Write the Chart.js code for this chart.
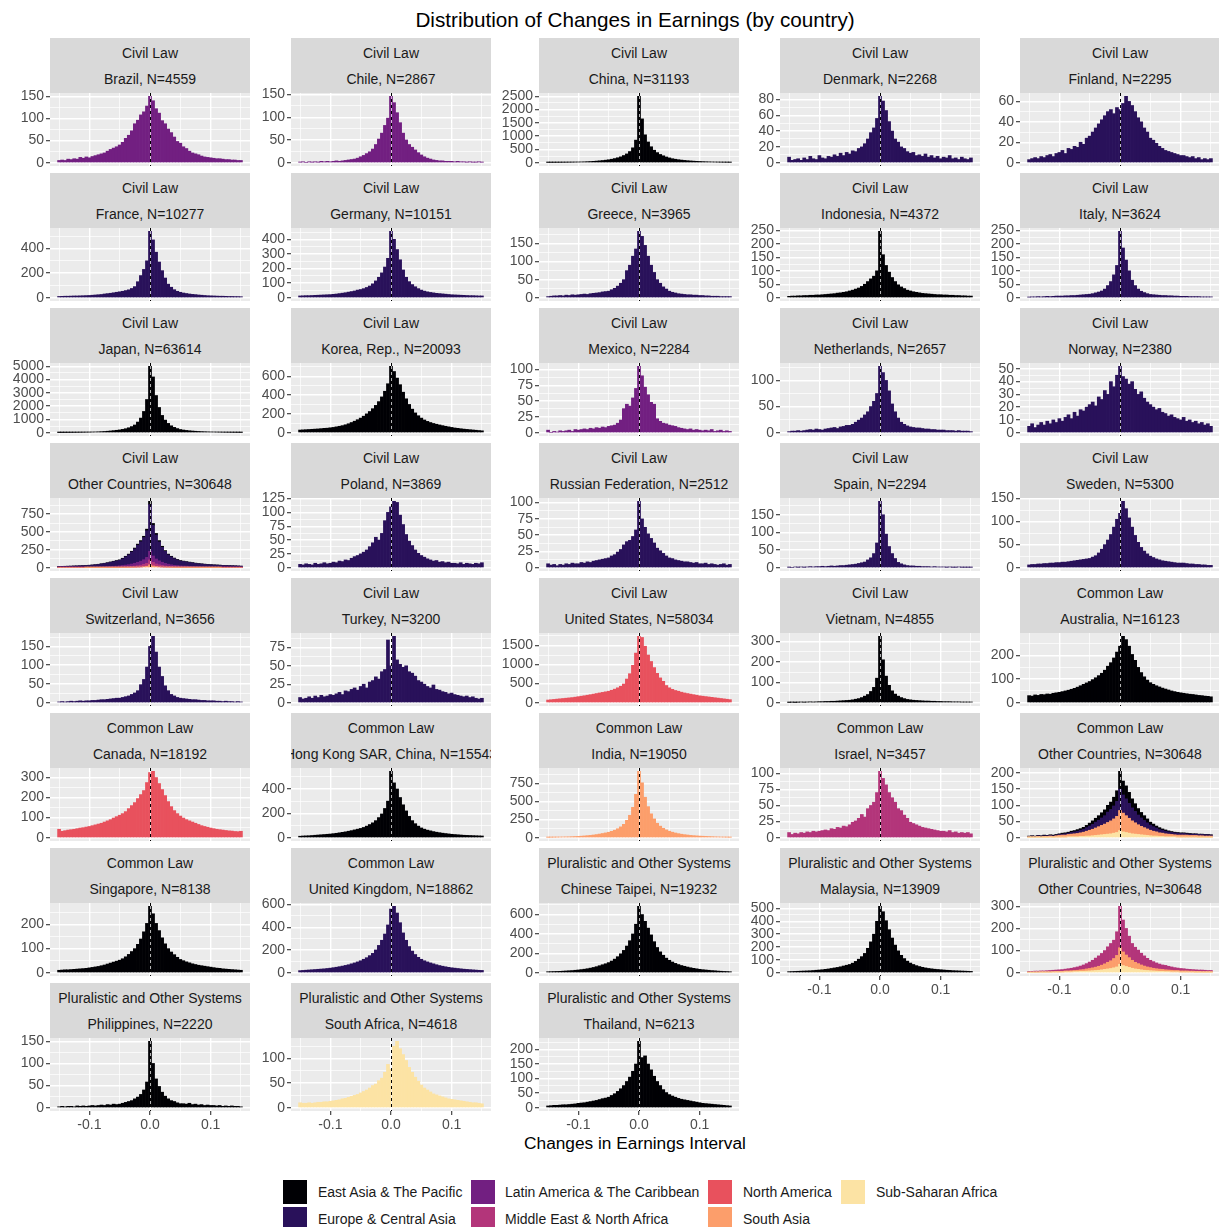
<!DOCTYPE html>
<html>
<head>
<meta charset="utf-8">
<title>Distribution of Changes in Earnings (by country)</title>
<script src="https://cdn.jsdelivr.net/npm/chart.js@4.4.1/dist/chart.umd.min.js"></script>
<style>
  html, body { margin: 0; padding: 0; background: #ffffff; }
  body { position: relative; width: 1219px; height: 1227px; overflow: hidden; font-family: "Liberation Sans", Arial, sans-serif; }
  .strip { position: absolute; background: #D9D9D9; overflow: hidden; }
  .strip div { position: absolute; left: 0; right: 0; display: flex; justify-content: center; white-space: nowrap; font-size: 14px; line-height: 16px; color: #1A1A1A; }
  .panel { position: absolute; }
  .title { position: absolute; left: 0; width: 1270px; text-align: center; color: #000; white-space: nowrap; }
  .key { position: absolute; width: 24px; height: 24px; }
  .ltext { position: absolute; font-size: 14px; line-height: 16px; color: #1A1A1A; white-space: nowrap; }
</style>
</head>
<body>
<div class="title" style="top:8px;font-size:20.7px;line-height:24px;">Distribution of Changes in Earnings (by country)</div>
<div class="title" style="top:1133px;font-size:17.3px;line-height:20px;">Changes in Earnings Interval</div>
<script>
// histogram bins: 61 bins of width 0.005, centred from -0.15 to 0.15
const BINS = Array.from({length: 61}, (_, i) => Math.round((-0.15 + i * 0.005) * 1000) / 1000);

// counts per bin (left tail | centre | right tail)
const brazil = [5,6,5,8,7,9,8,12,10,13,11,14,16,18,20,22,26,30,33,36, 40,46,55,62,72,88,96,108,115,128,150,140,122,112,95,88,76,68,58,48,44, 36,32,26,22,20,18,15,13,12,11,10,9,9,8,7,7,6,6,5,5];
const chile = [1,2,0,2,1,2,1,3,2,3,2,3,4,3,4,5,6,7,8,10, 13,16,20,24,30,40,52,65,82,98,146,132,110,88,65,50,40,34,28,22,17, 13,10,8,6,5,4,4,3,3,3,2,3,2,2,1,2,1,1,2,1];
const china = [8,9,10,11,12,14,15,17,19,22,25,28,32,38,44,52,60,70,82,95, 110,130,155,185,220,270,330,420,560,850,2500,1650,1050,780,600,470,380,310,260,215,180, 150,130,112,98,86,75,66,58,52,46,40,35,31,28,24,21,18,16,14,12];
const denmark = [7,3,4,5,3,6,4,8,5,4,9,6,5,8,7,10,8,12,9,13, 11,15,14,18,20,24,30,38,44,56,84,78,66,52,40,30,26,20,18,14,12, 13,9,10,8,11,7,9,6,8,5,7,6,9,5,6,4,7,5,4,6];
const finland = [3,4,5,4,6,5,7,8,6,9,10,12,9,14,13,16,15,20,18,24, 26,30,34,38,42,46,50,52,48,54,52,58,65,60,56,50,44,40,34,30,24, 22,19,16,14,12,11,10,9,8,7,7,6,5,6,4,5,3,4,3,4];
const france = [10,11,12,12,13,14,14,15,16,17,18,20,22,24,26,30,33,36,40,44, 48,52,58,64,75,90,130,180,230,300,540,470,370,290,220,160,110,85,65,52,44, 38,34,30,27,25,22,20,18,16,15,14,13,12,12,11,10,10,9,9,8];
const germany = [12,13,14,14,15,16,17,18,19,20,21,23,25,28,31,34,38,42,46,52, 56,62,70,80,95,115,140,170,210,270,455,400,330,260,190,140,110,90,75,62,52, 45,40,36,33,30,28,26,24,22,20,19,18,17,16,15,14,14,13,12,12];
const greece = [3,4,5,5,6,5,7,6,8,7,8,9,10,9,11,12,13,14,16,17, 18,22,26,32,40,50,75,90,115,135,184,170,145,115,90,70,50,40,30,24,18, 15,13,11,10,9,8,8,7,7,6,6,5,5,4,4,4,3,3,3,3];
const indonesia = [5,6,6,7,7,8,8,9,9,10,10,11,12,13,14,15,17,18,20,22, 25,28,32,36,42,50,60,70,80,100,247,160,120,95,75,60,48,40,34,28,25, 22,20,18,16,15,14,13,12,11,11,10,10,9,9,8,8,7,7,6,6];
const italy = [2,3,3,4,3,4,5,4,5,6,6,6,7,7,8,8,9,10,11,12, 13,15,18,21,25,32,45,60,85,120,247,185,140,100,65,45,32,24,19,15,12, 11,10,9,8,8,7,7,6,6,5,5,5,4,4,4,4,3,3,3,3];
const japan = [8,10,12,14,16,19,22,26,30,35,40,47,55,65,78,92,110,130,155,180, 210,250,300,370,460,580,800,1100,1600,2500,5000,4200,2800,1900,1300,950,700,520,400,310,240, 200,170,145,125,108,94,82,72,63,56,50,44,39,34,30,27,24,21,18,15];
const korea = [28,30,32,34,36,38,40,43,46,48,52,56,62,68,75,84,95,108,122,138, 155,175,200,225,255,290,330,380,440,520,705,650,580,510,430,360,300,250,210,180,155, 135,120,108,98,90,82,75,68,62,56,50,46,42,38,35,32,29,26,23,20];
const mexico = [4,0,2,1,3,2,3,4,2,5,4,5,6,5,7,6,8,7,9,8, 10,11,12,15,20,38,45,42,55,70,105,90,72,60,48,45,22,18,15,14,12, 11,10,8,7,6,5,6,4,5,4,3,4,3,5,2,3,4,2,3,2];
const netherlands = [2,3,3,4,3,4,5,6,5,7,6,5,7,8,9,10,8,11,12,14, 14,16,20,24,28,34,40,50,60,75,127,115,100,80,55,40,28,20,16,13,11, 10,9,9,8,7,7,6,6,5,5,5,4,4,4,3,4,3,3,3,2];
const norway = [5,7,4,6,8,6,9,7,10,8,11,9,12,14,11,16,13,18,17,20, 22,24,21,28,26,33,30,40,36,45,52,44,42,38,40,34,30,32,27,24,22, 20,18,19,16,15,13,14,12,11,10,12,9,10,8,9,7,8,6,7,5];
// Civil Law, other countries (stacked by region)
const cvoSouthAsia = [0,0,0,0,0,0,0,0,0,1,1,1,1,1,1,1,2,2,2,2, 3,3,4,4,5,6,8,10,14,20,40,24,16,12,9,7,6,5,4,4,3, 3,3,2,2,2,2,1,1,1,1,1,1,1,0,0,0,0,0,0,0];
const cvoMena = [1,1,1,1,1,1,1,2,2,2,2,2,3,3,3,4,4,5,5,6, 7,8,9,11,13,16,20,25,32,42,70,50,36,28,22,17,14,11,9,8,7, 6,6,5,5,4,4,4,3,3,3,3,2,2,2,2,2,2,1,1,1];
const cvoLatin = [2,2,2,3,3,3,3,4,4,4,5,5,6,7,8,9,10,11,13,14, 16,19,23,27,33,40,48,56,66,82,120,90,70,56,45,36,29,24,20,17,15, 14,13,12,11,10,9,8,8,7,7,6,6,5,5,5,4,4,4,3,3];
const cvoEurope = [14,15,16,16,17,19,20,20,21,23,25,28,30,34,40,45,50,58,65,73, 78,95,116,139,169,201,240,273,310,374,655,428,336,266,209,168,131,111,94,79,69, 64,58,54,49,44,39,38,35,32,29,27,27,26,24,22,21,20,20,19,17];
const cvoEastAsia = [1,1,1,1,1,1,1,1,2,2,2,2,2,3,3,3,4,4,5,5, 6,7,8,9,10,12,14,16,18,22,45,28,22,18,15,12,10,9,8,7,6, 5,5,5,4,4,4,3,3,3,3,3,2,2,2,2,2,2,1,1,1];
const poland = [6,5,7,6,5,8,6,7,9,7,8,10,9,12,11,14,13,17,20,22, 25,28,32,38,45,55,50,62,85,100,110,120,118,95,78,60,48,40,32,26,22, 19,16,14,12,13,10,11,9,10,8,8,7,9,6,8,7,6,8,7,9];
const russia = [6,4,5,3,5,4,6,5,7,6,6,8,7,9,8,10,11,12,13,14, 15,18,20,24,28,35,40,42,48,58,102,75,62,52,45,38,30,26,22,18,15, 14,12,11,10,9,9,8,7,8,6,6,7,5,6,5,4,5,6,4,5];
const spain = [1,0,2,1,2,1,2,3,2,3,3,4,3,4,5,4,5,6,6,7, 8,9,10,12,14,16,22,28,40,70,188,150,95,60,40,26,15,11,8,6,5, 5,4,4,3,3,3,2,3,2,2,2,1,2,1,1,2,1,1,1,1];
const sweden = [6,7,7,8,8,9,9,10,10,11,11,12,12,13,14,15,16,17,18,19, 20,23,26,32,40,50,60,72,88,105,118,144,128,108,88,70,55,44,36,30,25, 22,19,17,15,14,13,12,11,10,10,10,9,8,8,7,7,6,6,5,5];
const switzerland = [2,3,2,3,4,3,4,5,4,5,5,6,6,7,8,8,9,10,11,12, 12,14,16,18,22,26,32,48,62,95,150,177,135,95,70,45,32,22,18,14,12, 11,10,9,8,8,7,6,6,5,5,5,4,4,3,4,3,3,2,3,2];
const turkey = [7,5,6,8,6,9,7,10,8,9,11,10,12,14,11,16,15,18,20,17, 22,25,20,28,30,35,32,42,45,85,50,90,58,52,48,50,42,40,36,30,28, 25,22,20,24,18,17,15,14,12,13,11,10,9,8,9,7,8,6,5,6];
const unitedStates = [70,78,86,94,102,110,118,126,134,145,158,170,182,196,210,225,240,255,270,285, 300,325,355,390,430,490,620,760,980,1300,1740,1710,1480,1250,1080,920,770,650,560,450,390, 350,320,300,275,255,240,225,210,195,180,170,160,150,140,130,120,110,100,90,80];
const vietnam = [1,2,1,2,3,2,3,4,3,4,5,5,6,6,7,7,8,9,10,11, 12,14,17,20,25,32,40,55,75,120,325,210,130,85,58,42,32,25,20,16,14, 12,11,10,9,8,8,7,7,6,6,5,5,5,4,4,4,3,3,3,3];
const australia = [30,28,33,31,35,34,37,36,40,42,44,47,50,53,57,61,66,72,78,84, 90,98,106,115,125,138,155,170,190,215,240,282,268,240,205,180,150,128,110,96,85, 78,72,67,62,58,54,50,47,44,42,40,38,36,35,33,31,30,28,27,25];
const canada = [42,32,35,38,40,42,45,48,50,53,56,60,64,68,72,78,84,90,98,105, 112,120,130,145,160,175,195,215,235,275,325,331,300,270,240,210,180,155,135,120,108, 98,90,84,78,72,66,60,56,52,48,45,42,40,38,36,34,33,31,30,32];
const hongKong = [12,14,15,16,18,20,22,24,26,28,30,33,36,40,44,48,53,58,64,70, 76,84,95,108,122,140,165,195,240,300,545,450,400,330,270,220,175,140,115,95,80, 70,62,56,50,45,41,37,34,31,28,26,24,22,20,19,18,17,16,15,14];
const india = [5,6,7,8,9,10,11,12,14,16,18,21,24,28,32,37,43,50,58,66, 75,88,104,124,150,185,240,310,420,600,919,760,560,430,330,260,200,160,130,108,90, 76,65,56,48,42,37,32,28,25,22,20,18,16,14,12,11,9,8,7,6];
const israel = [8,5,7,6,8,7,9,8,10,9,10,11,12,11,14,13,16,15,18,17, 20,24,26,30,36,32,45,50,55,70,103,92,82,70,62,55,45,42,35,30,24, 22,20,18,16,15,14,13,12,11,10,10,9,11,8,9,7,8,7,8,6];
// Common Law, other countries (stacked by region)
const cmoSsa = [1,1,1,1,1,1,1,2,1,2,2,2,2,3,3,3,3,4,4,5, 5,6,7,8,9,10,11,12,14,16,22,18,16,14,12,11,10,9,8,7,6, 5,5,4,4,3,3,3,3,2,2,2,2,2,2,2,1,1,1,1,1];
const cmoSouthAsia = [2,2,2,3,2,3,3,3,3,4,5,6,6,7,8,9,10,11,13,15, 18,20,23,26,29,32,36,40,44,50,62,58,52,46,40,35,30,26,23,20,17, 15,13,11,10,9,8,7,6,6,6,6,6,5,5,5,5,5,4,4,4];
const cmoEurope = [1,2,1,2,2,2,2,2,2,2,3,3,4,4,5,6,7,8,9,11, 13,15,18,20,23,26,32,35,40,46,66,56,52,46,40,35,30,26,22,19,16, 14,12,10,9,8,7,6,6,6,5,5,4,4,4,4,4,4,4,4,3];
const cmoEastAsia = [1,1,1,1,1,2,1,2,2,2,2,3,3,3,4,4,5,5,6,7, 9,11,12,14,16,18,21,23,27,33,55,43,40,34,28,24,20,17,15,12,9, 8,6,6,4,4,3,3,2,2,2,2,2,2,1,1,1,1,1,1,1];
const singapore = [10,11,12,12,13,14,15,16,17,18,20,22,24,26,29,32,36,40,44,48, 52,58,66,76,88,100,118,140,170,205,276,245,205,175,145,120,100,86,75,64,55, 50,45,41,37,34,31,29,27,25,23,21,19,18,16,15,14,13,12,11,10];
const unitedKingdom = [18,20,22,24,26,28,30,32,34,37,40,44,48,53,58,64,70,78,86,95, 105,118,132,150,170,200,240,285,340,420,560,584,525,440,350,285,230,190,160,135,118, 105,95,86,78,70,63,57,52,47,43,40,37,34,31,29,27,25,23,21,20];
const chineseTaipei = [10,11,12,13,14,16,18,20,22,25,28,32,36,41,47,54,62,72,82,92, 104,120,140,165,195,230,275,330,400,500,685,600,530,460,390,320,260,215,180,150,128, 110,96,84,74,66,58,51,45,40,35,31,28,25,22,20,17,15,13,12,10];
const malaysia = [8,9,10,11,12,13,14,15,17,19,21,23,26,29,33,37,41,46,52,58, 64,74,88,105,125,150,190,240,300,400,517,475,405,335,270,215,170,135,110,90,75, 64,55,48,42,37,33,30,27,25,23,21,19,18,16,15,14,13,12,11,10];
// Pluralistic and Other Systems, other countries (stacked by region)
const ploSsa = [1,1,2,2,2,2,2,2,3,3,3,3,4,4,4,5,5,6,6,7, 8,9,10,11,13,15,17,19,22,26,38,32,28,24,20,17,15,13,11,10,9, 8,7,6,6,5,5,4,4,4,3,3,3,3,3,2,2,2,2,2,2];
const ploSouthAsia = [1,1,1,1,2,2,2,2,2,3,3,3,4,4,5,5,6,7,8,10, 11,13,15,18,21,25,30,35,42,52,75,62,52,44,36,30,26,22,19,16,14, 12,11,10,9,8,7,7,6,6,5,5,5,4,4,4,4,3,3,3,3];
const ploMena = [4,4,4,4,4,4,5,6,6,6,7,8,8,10,11,13,15,17,21,24, 29,34,41,47,53,60,70,78,83,107,187,144,120,97,76,68,61,53,46,39,33, 30,26,23,20,20,17,15,13,11,11,10,8,8,7,7,6,7,6,5,5];
const philippines = [2,3,2,3,3,2,4,3,4,3,4,5,4,5,6,5,7,6,8,7, 8,10,12,14,16,20,24,30,40,58,150,100,65,48,35,26,20,16,14,11,9, 9,8,10,7,8,6,7,5,6,5,5,4,5,3,4,3,4,3,3,2];
const southAfrica = [10,9,9,10,9,10,11,11,12,12,13,14,15,16,18,19,21,23,25,27, 30,33,36,40,45,48,55,60,72,88,78,125,135,120,108,96,82,72,62,54,46, 40,36,32,28,26,24,22,20,18,17,16,15,14,13,12,11,10,10,9,8];
const thailand = [6,7,8,8,9,10,10,11,12,13,15,16,17,19,21,23,25,28,31,33, 36,42,48,56,65,76,90,105,125,150,228,172,178,150,130,108,90,76,62,52,45, 40,36,32,29,27,25,23,21,19,17,15,14,13,12,11,10,9,8,7,6];

// facet labels
const legalSystems = [
  'Civil Law','Civil Law','Civil Law','Civil Law','Civil Law',
  'Civil Law','Civil Law','Civil Law','Civil Law','Civil Law',
  'Civil Law','Civil Law','Civil Law','Civil Law','Civil Law',
  'Civil Law','Civil Law','Civil Law','Civil Law','Civil Law',
  'Civil Law','Civil Law','Civil Law','Civil Law','Common Law',
  'Common Law','Common Law','Common Law','Common Law','Common Law',
  'Common Law','Common Law','Pluralistic and Other Systems','Pluralistic and Other Systems','Pluralistic and Other Systems',
  'Pluralistic and Other Systems','Pluralistic and Other Systems','Pluralistic and Other Systems'
];
const countries = [
  'Brazil','Chile','China','Denmark','Finland',
  'France','Germany','Greece','Indonesia','Italy',
  'Japan','Korea, Rep.','Mexico','Netherlands','Norway',
  'Other Countries','Poland','Russian Federation','Spain','Sweden',
  'Switzerland','Turkey','United States','Vietnam','Australia',
  'Canada','Hong Kong SAR, China','India','Israel','Other Countries',
  'Singapore','United Kingdom','Chinese Taipei','Malaysia','Other Countries',
  'Philippines','South Africa','Thailand'
];
const sampleSizes = [4559,2867,31193,2268,2295, 10277,10151,3965,4372,3624, 63614,20093,2284,2657,2380, 30648,3869,2512,2294,5300, 3656,3200,58034,4855,16123, 18192,15543,19050,3457,30648, 8138,18862,19232,13909,30648, 2220,4618,6213];
// major y tick step per facet
const yStep = [50,50,500,20,20, 200,100,50,50,50, 1000,200,25,50,10, 250,25,25,50,50, 50,25,500,100,100, 100,200,250,25,50, 100,200,200,100,100, 50,50,50];

const regionNames = ['East Asia & The Pacific','Europe & Central Asia','Latin America & The Caribbean','Middle East & North Africa','North America','South Asia','Sub-Saharan Africa'];
const regionColors = ['#000004','#29115A','#721F81','#B3357A','#E8515D','#FC9E6B','#FCE3A4'];
const EA = 0, EU = 1, LA = 2, ME = 3, NA = 4, SA = 5, SS = 6;

// series per facet: [region, counts], stacked bottom to top
const facetSeries = [
  [[LA, brazil]], [[LA, chile]], [[EA, china]], [[EU, denmark]], [[EU, finland]],
  [[EU, france]], [[EU, germany]], [[EU, greece]], [[EA, indonesia]], [[EU, italy]],
  [[EA, japan]], [[EA, korea]], [[LA, mexico]], [[EU, netherlands]], [[EU, norway]],
  [[SA, cvoSouthAsia], [ME, cvoMena], [LA, cvoLatin], [EU, cvoEurope], [EA, cvoEastAsia]],
  [[EU, poland]], [[EU, russia]], [[EU, spain]], [[EU, sweden]],
  [[EU, switzerland]], [[EU, turkey]], [[NA, unitedStates]], [[EA, vietnam]], [[EA, australia]],
  [[NA, canada]], [[EA, hongKong]], [[SA, india]], [[ME, israel]],
  [[SS, cmoSsa], [SA, cmoSouthAsia], [EU, cmoEurope], [EA, cmoEastAsia]],
  [[EA, singapore]], [[EU, unitedKingdom]], [[EA, chineseTaipei]], [[EA, malaysia]],
  [[SS, ploSsa], [SA, ploSouthAsia], [ME, ploMena]],
  [[EA, philippines]], [[SS, southAfrica]], [[EA, thailand]]
];
const X_TICKS = [-0.15, -0.1, -0.05, 0, 0.05, 0.1, 0.15];

// layout
const COL_X = [50, 291, 539, 780, 1020];
const PLOT_W = 200, PLOT_H = 73, ROW_PITCH = 135, STRIP_TOP = 38, STRIP_H = 55;
const AXIS_W = 50, PAD_TOP = 10;
const FONT = '"Liberation Sans", Arial, sans-serif';

Chart.defaults.font.family = FONT;
Chart.defaults.animation = false;

const panelBg = {
  id: 'panelBg',
  beforeDraw(chart) {
    const {ctx, chartArea: a} = chart;
    ctx.save();
    ctx.fillStyle = '#EBEBEB';
    ctx.fillRect(a.left, a.top, a.width, a.height);
    ctx.restore();
  }
};

const zeroLine = {
  id: 'zeroLine',
  afterDatasetsDraw(chart) {
    const {ctx, chartArea: a, scales: {x}} = chart;
    const px = Math.round(x.getPixelForValue(0)) + 0.5;
    ctx.save();
    ctx.lineWidth = 1;
    ctx.strokeStyle = 'rgba(255,255,255,0.7)';
    ctx.beginPath(); ctx.moveTo(px, a.top); ctx.lineTo(px, a.bottom); ctx.stroke();
    ctx.strokeStyle = '#000000';
    ctx.setLineDash([3, 3]);
    ctx.beginPath(); ctx.moveTo(px, a.top); ctx.lineTo(px, a.bottom); ctx.stroke();
    ctx.restore();
  }
};

countries.forEach((name, p) => {
  const col = p % 5, row = Math.floor(p / 5);
  const isBottom = p + 5 >= countries.length;
  const x0 = COL_X[col];
  const stripTop = STRIP_TOP + row * ROW_PITCH;
  const plotTop = stripTop + STRIP_H;

  const strip = document.createElement('div');
  strip.className = 'strip';
  Object.assign(strip.style, {left: x0 + 'px', top: stripTop + 'px', width: PLOT_W + 'px', height: STRIP_H + 'px'});
  strip.innerHTML = '<div style="top:7px"><span>' + legalSystems[p] + '</span></div>' +
                    '<div style="top:33px"><span>' + name + ', N=' + sampleSizes[p] + '</span></div>';
  document.body.appendChild(strip);

  const layers = facetSeries[p];
  const totals = BINS.map((_, i) => layers.reduce((s, [, v]) => s + v[i], 0));
  const dmax = Math.max(...totals);
  const step = yStep[p];
  const yTicks = [];
  for (let v = 0; v <= dmax * 1.05; v += step / 2) yTicks.push(v);
  const yMajor = v => Math.round(v * 2 / step) % 2 === 0;
  const xMajor = v => Math.abs(Math.round(v * 100)) % 10 === 0;

  const xAxisH = isBottom ? 26 : 0;
  const padBottom = isBottom ? 4 : 8;
  const box = document.createElement('div');
  box.className = 'panel';
  Object.assign(box.style, {left: (x0 - AXIS_W) + 'px', top: (plotTop - PAD_TOP) + 'px'});
  const canvas = document.createElement('canvas');
  canvas.width = AXIS_W + PLOT_W + 2;
  canvas.height = PAD_TOP + PLOT_H + xAxisH + padBottom;
  box.appendChild(canvas);
  document.body.appendChild(box);

  new Chart(canvas, {
    type: 'bar',
    data: {
      labels: BINS,
      datasets: layers.map(([r, v]) => ({
        data: v,
        backgroundColor: regionColors[r],
        borderWidth: 0,
        barPercentage: 1,
        categoryPercentage: 1
      }))
    },
    options: {
      responsive: false,
      devicePixelRatio: 1,
      layout: {padding: {top: PAD_TOP, left: 0, right: 2, bottom: padBottom}},
      plugins: {legend: {display: false}, tooltip: {enabled: false}},
      scales: {
        x: {
          type: 'linear',
          stacked: true,
          min: -0.165,
          max: 0.165,
          bounds: 'data',
          offset: false,
          afterBuildTicks: s => { s.ticks = X_TICKS.map(v => ({value: v})); },
          afterFit: s => { s.height = xAxisH; s.paddingLeft = 0; s.paddingRight = 0; },
          border: {display: false},
          grid: {
            offset: false,
            color: '#FFFFFF',
            lineWidth: c => xMajor(c.tick.value) ? 1.4 : 0.7,
            drawTicks: isBottom,
            tickLength: 4,
            tickWidth: 1.1,
            tickColor: c => xMajor(c.tick.value) ? '#333333' : 'rgba(0,0,0,0)'
          },
          ticks: {
            display: isBottom,
            autoSkip: false,
            maxRotation: 0,
            padding: 2,
            color: '#4D4D4D',
            font: {size: 14},
            callback: v => xMajor(v) ? v.toFixed(1) : ''
          }
        },
        y: {
          stacked: true,
          min: -0.05 * dmax,
          max: 1.05 * dmax,
          bounds: 'data',
          afterBuildTicks: s => { s.ticks = yTicks.map(v => ({value: v})); },
          afterFit: s => { s.width = AXIS_W; s.paddingTop = 0; s.paddingBottom = 0; },
          border: {display: false},
          grid: {
            color: '#FFFFFF',
            lineWidth: c => yMajor(c.tick.value) ? 1.4 : 0.7,
            tickLength: 4,
            tickWidth: 1.1,
            tickColor: c => yMajor(c.tick.value) ? '#333333' : 'rgba(0,0,0,0)'
          },
          ticks: {
            autoSkip: false,
            padding: 2,
            color: '#4D4D4D',
            font: {size: 14},
            callback: v => yMajor(v) ? String(v) : ''
          }
        }
      }
    },
    plugins: [panelBg, zeroLine]
  });
});

// legend (two rows, filled column by column)
const LEG_KEY_X = [283, 471, 708, 841];
const LEG_TEXT_X = [318, 505, 743, 876];
const LEG_ROW_Y = [1180, 1207];
regionNames.forEach((label, i) => {
  const c = Math.floor(i / 2), r = i % 2;
  const key = document.createElement('div');
  key.className = 'key';
  Object.assign(key.style, {left: LEG_KEY_X[c] + 'px', top: LEG_ROW_Y[r] + 'px', background: regionColors[i]});
  document.body.appendChild(key);
  const t = document.createElement('div');
  t.className = 'ltext';
  t.textContent = label;
  Object.assign(t.style, {left: LEG_TEXT_X[c] + 'px', top: (LEG_ROW_Y[r] + 4) + 'px'});
  document.body.appendChild(t);
});
</script>
</body>
</html>
